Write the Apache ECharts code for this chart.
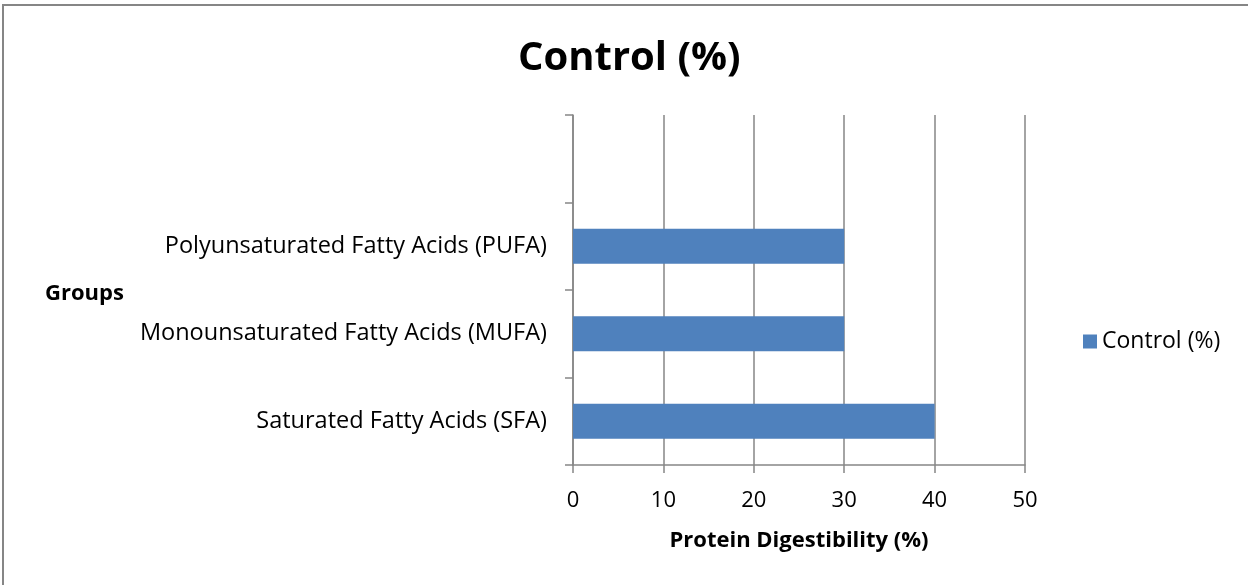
<!DOCTYPE html>
<html><head><meta charset="utf-8">
<script src="https://cdn.jsdelivr.net/npm/echarts@6/dist/echarts.min.js"></script>
<style>html,body{margin:0;padding:0;background:#fff;overflow:hidden;width:1248px;height:585px}#c{width:1248px;height:585px;position:relative}
#b{position:absolute;left:2px;top:4px;width:1300px;height:700px;border-top:2px solid #868686;border-left:2px solid #868686;box-sizing:border-box;pointer-events:none}</style>
</head><body><div id="c"></div><div id="b"></div>
<script>
const categories = ['Saturated Fatty Acids (SFA)', 'Monounsaturated Fatty Acids (MUFA)', 'Polyunsaturated Fatty Acids (PUFA)', ''];
const controlValues = [40, 30, 30, null];
const xTicks = [0, 10, 20, 30, 40, 50];
const seriesName = 'Control (%)';
const titleText = 'Control (%)';
const xAxisName = 'Protein Digestibility (%)';
const yAxisName = 'Groups';

const font = "'Open Sans', 'Liberation Sans', sans-serif";
const chart = echarts.init(document.getElementById('c'), null, {renderer: 'canvas'});
chart.setOption({
  animation: false,
  title: {text: titleText, left: 513, top: 34,
    textStyle: {fontFamily: font, fontSize: 40, fontWeight: 'bold', color: '#000'}},
  legend: {data: [seriesName], left: 1078, top: 325, itemWidth: 14, itemHeight: 14, itemGap: 7,
    icon: 'rect', textStyle: {fontFamily: font, fontSize: 23, color: '#000'}},
  grid: {left: 573, right: 223, top: 115, bottom: 120, containLabel: false},
  xAxis: {type: 'value', min: xTicks[0], max: xTicks[xTicks.length - 1], interval: 10,
    name: xAxisName, nameLocation: 'middle', nameGap: 65, nameMoveOverlap: false,
    nameTextStyle: {fontFamily: font, fontSize: 22, fontWeight: 'bold', color: '#000'},
    axisLine: {show: true, lineStyle: {color: '#868686', width: 1.5}},
    axisTick: {show: true, length: 8, lineStyle: {color: '#868686', width: 1.5}},
    axisLabel: {fontFamily: font, fontSize: 22, color: '#000', margin: 25},
    splitLine: {show: true, lineStyle: {color: '#868686', width: 1.5}}},
  yAxis: {type: 'category', data: categories, boundaryGap: true,
    axisLine: {show: true, lineStyle: {color: '#868686', width: 1.5}},
    axisTick: {show: true, length: 8, alignWithLabel: false, lineStyle: {color: '#868686', width: 1.5}},
    axisLabel: {fontFamily: font, fontSize: 23.5, color: '#000', margin: 26},
    splitLine: {show: false}},
  graphic: [{type: 'text', left: 45, top: 283, style: {text: yAxisName, fontFamily: font, fontSize: 22, fontWeight: 'bold', fill: '#000'}}],
  series: [{name: seriesName, type: 'bar', data: controlValues, barWidth: 35,
    itemStyle: {color: '#4F81BD'}}]
});
</script></body></html>
